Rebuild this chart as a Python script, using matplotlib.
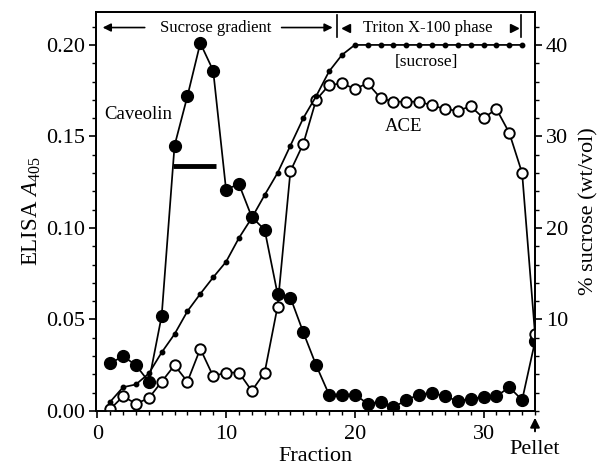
import matplotlib
matplotlib.use("Agg")
import matplotlib.pyplot as plt
from matplotlib.ticker import MultipleLocator, FormatStrFormatter, FixedLocator
import numpy as np

plt.rcParams['font.family'] = ['Liberation Serif', 'DejaVu Serif']
plt.rcParams['mathtext.fontset'] = 'custom'
plt.rcParams['mathtext.rm'] = 'Liberation Serif'
plt.rcParams['mathtext.it'] = 'Liberation Serif:italic'

# fractions 1..33 plus the pellet (drawn at 34)
fractions = list(range(1, 35))
caveolin = [0.026, 0.030, 0.025, 0.016, 0.052, 0.145, 0.172, 0.201, 0.186, 0.121,
            0.124, 0.106, 0.099, 0.064, 0.062, 0.043, 0.025, 0.009, 0.009, 0.009,
            0.004, 0.005, 0.002, 0.006, 0.009, 0.010, 0.008, 0.0055, 0.0066, 0.0077,
            0.008, 0.013, 0.006, 0.038]
ace = [0.001, 0.008, 0.004, 0.007, 0.016, 0.025, 0.016, 0.034, 0.019, 0.021,
       0.021, 0.011, 0.021, 0.057, 0.131, 0.146, 0.170, 0.178, 0.179, 0.176,
       0.179, 0.171, 0.169, 0.169, 0.169, 0.167, 0.165, 0.164, 0.1665, 0.160,
       0.165, 0.152, 0.130, 0.042]
sucrose_frac = list(range(1, 34))
sucrose = [1.0, 2.6, 2.9, 4.1, 6.4, 8.4, 10.9, 12.8, 14.6, 16.3,
           18.9, 21.1, 23.6, 26.0, 29.0, 32.0, 34.4, 37.1, 38.9, 40,
           40, 40, 40, 40, 40, 40, 40, 40, 40, 40,
           40, 40, 40]

fig = plt.figure(figsize=(6.05, 4.68), dpi=100)
ax = fig.add_axes([0.1587, 0.1218, 0.7256, 0.8526])
ax2 = ax.twinx()

ytop = 0.218
ax.set_xlim(-0.1, 34)
ax.set_ylim(0, ytop)
ax2.set_ylim(0, ytop * 200)

# curves
ax.plot(fractions, caveolin, '-o', color='black', lw=1.25, ms=8.5, zorder=3)
ax.plot(fractions, ace, '-o', color='black', lw=1.25, ms=7.5,
        mfc='white', mew=1.4, zorder=4)
ax2.plot(sucrose_frac, sucrose, '-o', color='black', lw=1.25, ms=3.2)

# ticks
ax.xaxis.set_major_locator(FixedLocator([0, 10, 20, 30]))
ax.xaxis.set_minor_locator(MultipleLocator(1))
ax.yaxis.set_major_locator(MultipleLocator(0.05))
ax.yaxis.set_minor_locator(MultipleLocator(0.01))
ax.yaxis.set_major_formatter(FormatStrFormatter('%.2f'))
ax2.yaxis.set_major_locator(FixedLocator([10, 20, 30, 40]))
ax2.yaxis.set_minor_locator(MultipleLocator(2))
for a in (ax, ax2):
    a.tick_params(which='major', length=5, width=1.2, labelsize=16, pad=3)
    a.tick_params(which='minor', length=3, width=1.0)
    for s in a.spines.values():
        s.set_linewidth(1.3)
ax.tick_params(axis='x', pad=5)

ax.set_xlabel('Fraction', fontsize=16, labelpad=2)
ax.set_ylabel('ELISA $\\mathit{A}_{\\mathrm{405}}$', fontsize=16.5, labelpad=2)
ax2.set_ylabel('% sucrose (wt/vol)', fontsize=16, labelpad=8)

# top annotations
ya = 0.2095
arr = dict(arrowstyle='-|>', color='black', lw=1.2, mutation_scale=12)
ax.annotate('', xy=(0.2, ya), xytext=(3.9, ya), arrowprops=arr)
ax.annotate('', xy=(18.5, ya), xytext=(14.1, ya), arrowprops=arr)
ax.text(9.2, ya, 'Sucrose gradient', fontsize=12, ha='center', va='center')
ax.plot([18.6, 18.6], [0.2045, 0.2165], color='black', lw=1.2)
ax.plot([32.9, 32.9], [0.2045, 0.2165], color='black', lw=1.2)
ax.plot([19.3], [ya], marker='<', color='black', ms=6)
ax.plot([32.4], [ya], marker='>', color='black', ms=6)
ax.text(25.7, ya, 'Triton X-100 phase', fontsize=12, ha='center', va='center')

ax.text(3.2, 0.162, 'Caveolin', fontsize=13.5, ha='center', va='center')
ax.text(23.8, 0.1555, 'ACE', fontsize=13.5, ha='center', va='center')
ax.text(25.6, 0.1905, '[sucrose]', fontsize=12.5, ha='center', va='center')
ax.plot([5.9, 9.2], [0.134, 0.134], color='black', lw=3.5, solid_capstyle='butt')

# pellet marker below the axis
tr = ax.get_xaxis_transform()
ax.annotate('', xy=(34, -0.010), xycoords=tr, xytext=(34, -0.058), textcoords=tr,
            arrowprops=dict(arrowstyle='-|>', color='black', lw=1.4, mutation_scale=14),
            annotation_clip=False)
ax.text(34, -0.096, 'Pellet', transform=tr, fontsize=16, ha='center', va='center')

fig.savefig('out.png', dpi=100)
